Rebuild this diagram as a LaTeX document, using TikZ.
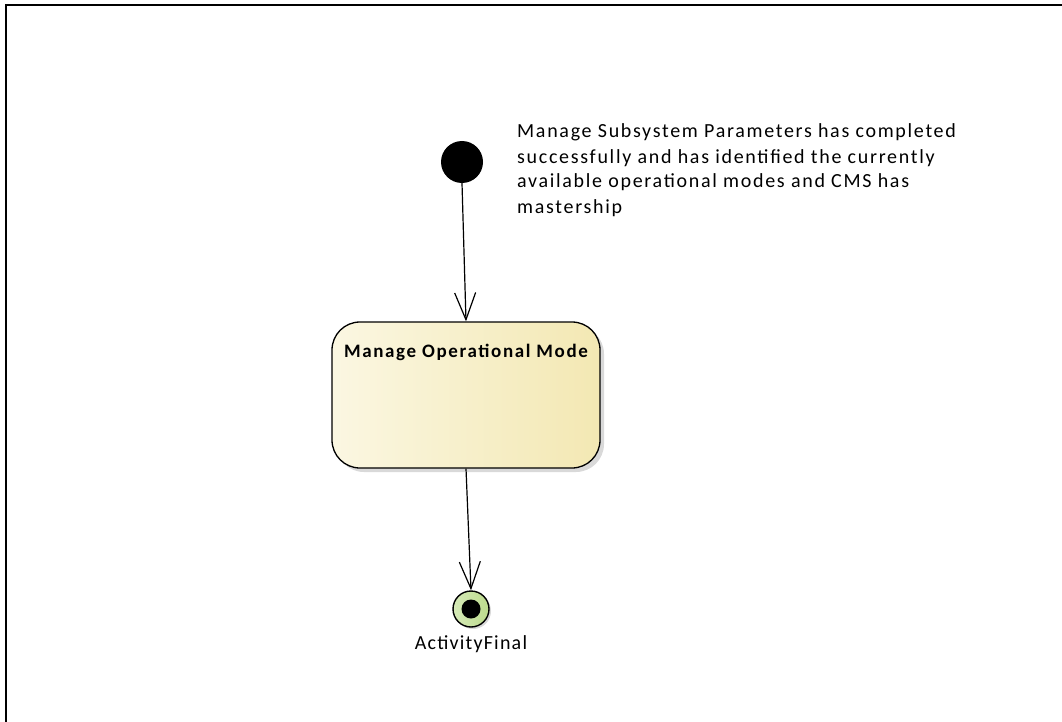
\documentclass[tikz,border=0pt]{standalone}
\usepackage{fontspec}
\setmainfont{Carlito}
\newfontfamily\notefont[LetterSpace=8.5]{Carlito}
\newfontfamily\labelfont[LetterSpace=6]{Carlito}
\newfontfamily\titlefont[LetterSpace=8.6]{Carlito}
\usetikzlibrary{arrows.meta,shadows}
\definecolor{boxL}{HTML}{FBF7E2}
\definecolor{boxR}{HTML}{F3E8B3}
\definecolor{finL}{HTML}{D6EAB8}
\definecolor{finR}{HTML}{BCDB8C}
\tikzset{
  flow/.style={line width=1.2pt,-{Straight Barb[length=27pt,width=21pt,line width=1.2pt]}},
  actbox/.style={draw,line width=1.3pt,rounded corners=28pt,left color=boxL,right color=boxR,
     minimum width=268pt,minimum height=146pt,drop shadow={shadow xshift=4pt,shadow yshift=-4pt,opacity=0.3}},
  initnode/.style={circle,fill=black,minimum size=42pt,inner sep=0pt},
  finalnode/.style={circle,draw,line width=1.4pt,left color=finL,right color=finR,minimum size=36pt,inner sep=0pt,
     drop shadow={shadow xshift=2pt,shadow yshift=-2pt,opacity=0.3}},
  txt/.style={font=\notefont\fontsize{20pt}{25pt}\selectfont,align=left,inner sep=0pt}
}
\begin{document}
\begin{tikzpicture}[x=1pt,y=-1pt]
\useasboundingbox (0,0) rectangle (1062,722);
\draw[line width=1.2pt] (6,722) -- (6,5) -- (1062,5);
\node[initnode] (init) at (462,162) {};
\node[actbox] (act) at (466,395) {};
\node[font=\titlefont\fontsize{19pt}{22pt}\selectfont\bfseries,anchor=base] (title) at (466,357) {Manage Operational Mode};
\node[finalnode] (fin) at (471,609) {};
\node[circle,fill=black,minimum size=19pt,inner sep=0pt] (fdot) at (fin) {};
\node[font=\labelfont\fontsize{20pt}{22pt}\selectfont,anchor=base] (flabel) at (471,649) {ActivityFinal};
\node[txt,anchor=base west] (note) at (517,213) {Manage Subsystem Parameters has completed\\successfully and has identified the currently\\available operational modes and CMS has\\mastership};
\draw[flow] (init.south) -- (act.north);
\draw[flow] (act.south) -- (fin.north);
\end{tikzpicture}
\end{document}
